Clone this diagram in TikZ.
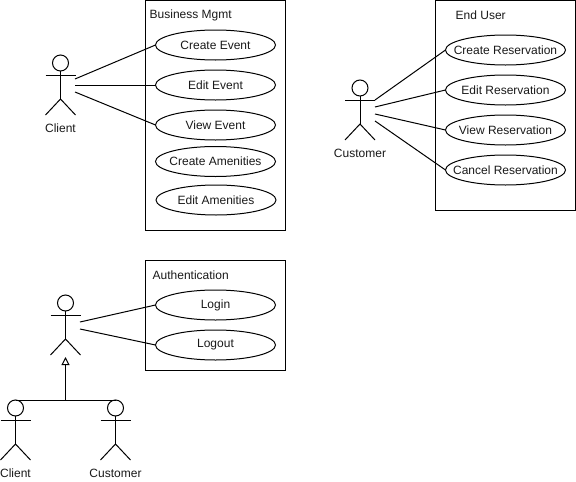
\documentclass[tikz,border=0pt]{standalone}
\usepackage{fontspec}
\setmainfont{Liberation Sans}
\usetikzlibrary{shapes.geometric,arrows.meta}
\tikzset{
  every node/.style={font=\fontsize{12}{14}\selectfont,text=black!90},
  line/.style={draw=black,line width=1pt},
  sysbox/.style={line,rectangle,inner sep=0pt,outer sep=0pt,anchor=north west},
  usecase/.style={line,ellipse,minimum width=120pt,minimum height=30pt,inner sep=0pt,outer sep=0pt},
  lbl/.style={inner sep=0pt,anchor=center},
  actorhead/.style={line,circle,minimum size=16pt,inner sep=0pt,outer sep=0pt},
  gen/.style={line,-{Triangle[open,fill=white,length=8pt,width=8pt]}},
}
\newcommand{\uctext}[1]{\makebox[0pt]{#1}}
\newcommand{\stick}[3]{%
  % #1 name, #2 x, #3 y of arm line
  \node[actorhead] (#1h) at (#2,#3-12) {};
  \coordinate (#1l) at (#2-15,#3);
  \coordinate (#1r) at (#2+15,#3);
  \coordinate (#1m) at (#2,#3+24);
  \coordinate (#1a) at (#2-15,#3+40);
  \coordinate (#1b) at (#2+15,#3+40);
  \draw[line] (#1h.south) -- (#1m);
  \draw[line] (#1l) -- (#1r);
  \draw[line] (#1a) -- (#1m) -- (#1b);
}
\begin{document}
\begin{tikzpicture}[x=1pt,y=-1pt]
\useasboundingbox (0,0) rectangle (576,482);
% boxes
\node[sysbox,minimum width=140pt,minimum height=230pt] (bm) at (145.5,0.5) {};
\node[sysbox,minimum width=140pt,minimum height=210pt] (eu) at (435.5,0.5) {};
\node[sysbox,minimum width=140pt,minimum height=110pt] (au) at (145.5,260.5) {};
\node[lbl,anchor=west] (bmt) at (149.5,15) {Business Mgmt};
\node[lbl,anchor=west] (eut) at (455.5,15) {End User};
\node[lbl,anchor=west] (aut) at (152.5,275) {Authentication};
% use cases
\node[usecase] (ce) at (215.5,45) {\uctext{Create Event}};
\node[usecase] (ee) at (215.5,85) {\uctext{Edit Event}};
\node[usecase] (ve) at (215.5,125) {\uctext{View Event}};
\node[usecase] (ca) at (215.5,161.5) {\uctext{Create Amenities}};
\node[usecase] (ea) at (216,200) {\uctext{Edit Amenities}};
\node[usecase] (cr) at (505.5,50) {\uctext{Create Reservation}};
\node[usecase] (er) at (505.5,90) {\uctext{Edit Reservation}};
\node[usecase] (vr) at (505.5,130) {\uctext{View Reservation}};
\node[usecase] (xr) at (505.5,170) {\uctext{Cancel Reservation}};
\node[usecase] (li) at (215.5,305) {\uctext{Login}};
\node[usecase] (lo) at (215.5,345) {\uctext{Logout}};
% actors
\stick{cl}{60.5}{75}
\stick{cu}{360}{100}
\stick{us}{65.5}{315}
\stick{bc}{15.5}{420}
\stick{bu}{115.5}{420}
\node[lbl] (cll) at (60.5,128) {Client};
\node[lbl] (cul) at (360,153) {Customer};
\node[lbl] (bcl) at (15.5,473) {Client};
\node[lbl] (bul) at (115.5,473) {Customer};
% connector free ends on the actors
\coordinate (cl1) at (75,79);
\coordinate (cl2) at (75,85);
\coordinate (cl3) at (75,92);
\coordinate (cu1) at (375,100);
\coordinate (cu2) at (375,107);
\coordinate (cu3) at (375,114);
\coordinate (cu4) at (375,121);
\coordinate (us1) at (80,322);
\coordinate (us2) at (80,329);
\draw[line] (cl1) -- (ce.west);
\draw[line] (cl2) -- (ee.west);
\draw[line] (cl3) -- (ve.west);
\draw[line] (cu1) -- (cr.west);
\draw[line] (cu2) -- (er.west);
\draw[line] (cu3) -- (vr.west);
\draw[line] (cu4) -- (xr.west);
\draw[line] (us1) -- (li.west);
\draw[line] (us2) -- (lo.west);
% generalization
\coordinate (tip) at (65.5,357);
\coordinate (junc) at (65.5,400);
\draw[line] (bch.north) -- (buh.north);
\draw[gen] (junc) -- (tip);
\end{tikzpicture}
\end{document}
